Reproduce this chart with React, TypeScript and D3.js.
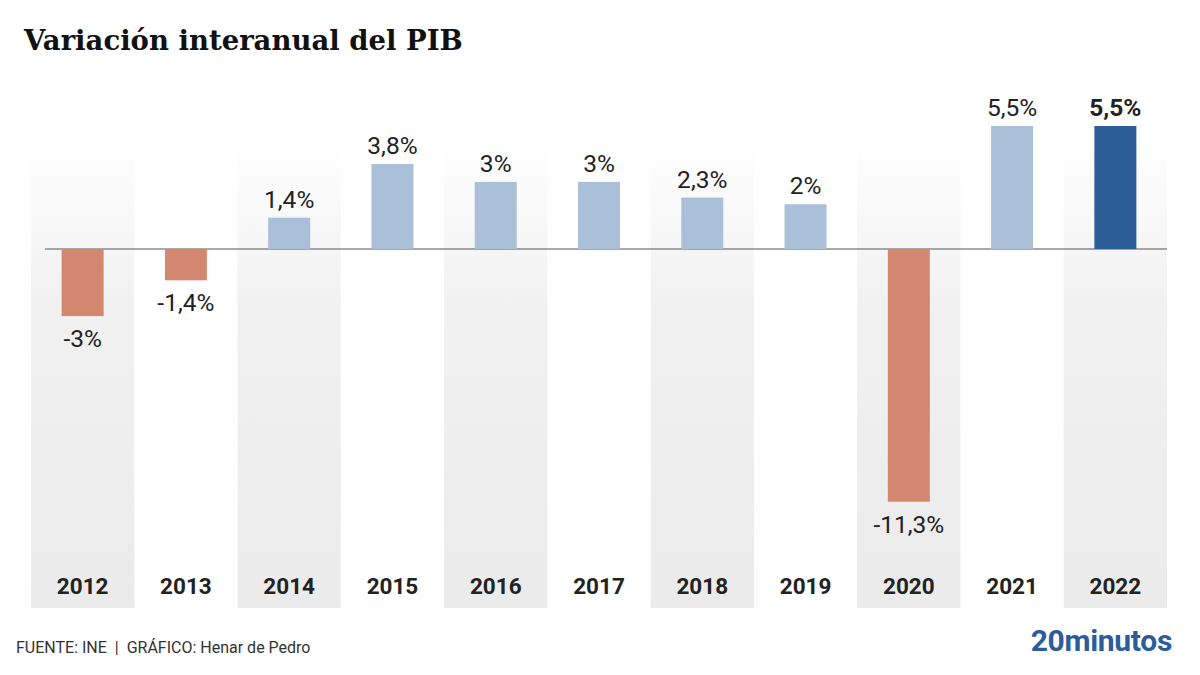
import React from 'react'
import * as d3 from 'd3'

const years = ['2012', '2013', '2014', '2015', '2016', '2017', '2018', '2019', '2020', '2021', '2022']
const values = [-3, -1.4, 1.4, 3.8, 3, 3, 2.3, 2, -11.3, 5.5, 5.5]
const labels = ['-3%', '-1,4%', '1,4%', '3,8%', '3%', '3%', '2,3%', '2%', '-11,3%', '5,5%', '5,5%']
const highlight = '2022'

const W = 1200
const H = 675
const plotLeft = 31
const plotRight = 1167
const zeroY = 249

export default function App() {
  const x = d3.scaleBand<string>().domain(years).range([plotLeft, plotRight]).padding(0)
  // ~22.4px per point
  const y = d3.scaleLinear().domain([0, 5.5]).range([zeroY, 126])
  const barW = 42

  const colorFor = (yr: string, v: number) =>
    yr === highlight ? '#2e5e99' : v < 0 ? '#d4876f' : '#aabfd8'

  return (
    <svg width={W} height={H} style={{ display: 'block', margin: '-8px', background: '#fff' }}>
      <defs>
        <linearGradient id="band" x1="0" y1="0" x2="0" y2="1">
          <stop offset="0" stopColor="#ffffff" />
          <stop offset="0.35" stopColor="#f1f1f1" />
          <stop offset="1" stopColor="#ebebeb" />
        </linearGradient>
      </defs>
      <rect width={W} height={H} fill="#fff" />

      <text x={24} y={50} fontFamily="'DejaVu Serif', serif" fontWeight="bold" fontSize={27.5} fill="#111">
        Variación interanual del PIB
      </text>

      {years.map((yr, i) =>
        i % 2 === 0 ? (
          <rect key={'b' + yr} x={x(yr)} y={140} width={x.bandwidth()} height={468} fill="url(#band)" />
        ) : null
      )}

      <line x1={45} x2={plotRight} y1={zeroY} y2={zeroY} stroke="#555" strokeWidth={1.2} />

      {years.map((yr, i) => {
        const v = values[i]
        const cx = (x(yr) as number) + x.bandwidth() / 2
        const top = Math.min(y(v), y(0))
        const h = Math.abs(y(v) - y(0))
        return (
          <g key={yr}>
            <rect x={cx - barW / 2} y={top} width={barW} height={h} fill={colorFor(yr, v)} />
            <text
              x={cx}
              y={v >= 0 ? y(v) - 10 : y(v) + 31}
              textAnchor="middle"
              fontFamily="Roboto, sans-serif"
              fontSize={24.5}
              fontWeight={yr === highlight ? 'bold' : 'normal'}
              fill="#222"
            >
              {labels[i]}
            </text>
            <text
              x={cx}
              y={594}
              textAnchor="middle"
              fontFamily="Roboto, sans-serif"
              fontSize={22.5}
              fontWeight="bold"
              fill="#222"
            >
              {yr}
            </text>
          </g>
        )
      })}

      <text x={16} y={653} fontFamily="Roboto, sans-serif" fontSize={16} fill="#333" style={{ whiteSpace: 'pre' }}>
        {'FUENTE: INE  |  GRÁFICO: Henar de Pedro'}
      </text>
      <text x={1172} y={651} textAnchor="end" fontFamily="Roboto, sans-serif" fontWeight="bold" fontSize={30} fill="#2d5c9a" letterSpacing={-0.3}>
        20minutos
      </text>
    </svg>
  )
}
